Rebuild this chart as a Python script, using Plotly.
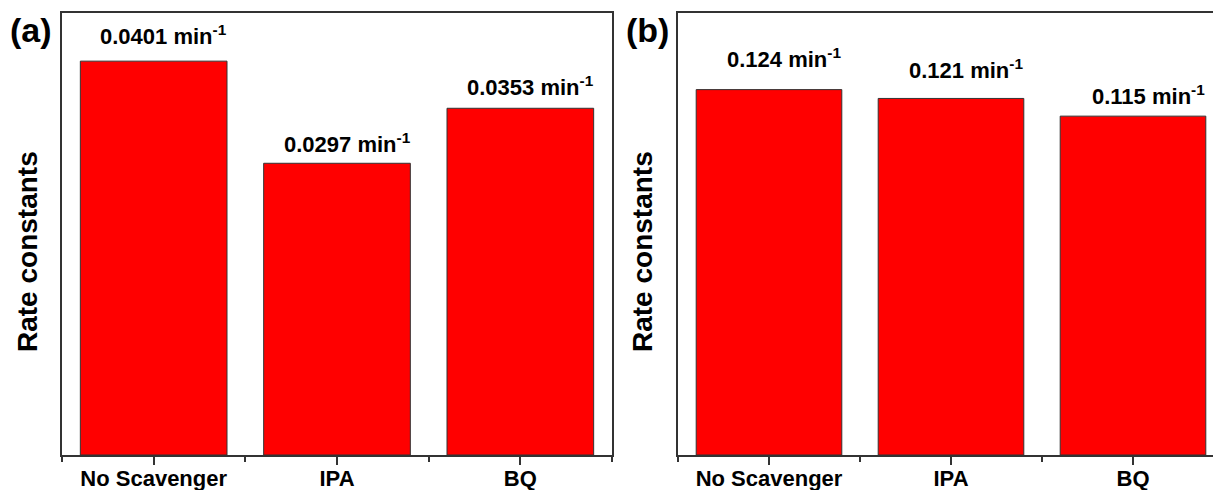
import plotly.graph_objects as go

# ---- data ----
categories = ["No Scavenger", "IPA", "BQ"]
rates_a = [0.0401, 0.0297, 0.0353]
rates_b = [0.124, 0.121, 0.115]
labels_a = ["0.0401", "0.0297", "0.0353"]
labels_b = ["0.124", "0.121", "0.115"]
unit = " min<sup>-1</sup>"

# label style offsets (px between bar top and text baseline)
gap_a = [16, 10, 12]
gap_b = [22, 19, 11]

FONT = "Arial, Liberation Sans, sans-serif"
W, H = 1213, 490
xs = list(range(len(categories)))

fig = go.Figure()
bar_style = dict(marker=dict(color="#ff0000", line=dict(color="#333333", width=1)),
                 width=0.8, hoverinfo="skip", showlegend=False)
fig.add_trace(go.Bar(x=xs, y=rates_a, xaxis="x", yaxis="y", **bar_style))
fig.add_trace(go.Bar(x=xs, y=rates_b, xaxis="x2", yaxis="y2", **bar_style))

def xaxis(domain, rng, mirror_top=True):
    return dict(domain=domain, range=rng, tickvals=xs, ticktext=categories,
                ticks="outside", ticklen=8, tickwidth=1.5, tickcolor="#333333",
                showline=True, linecolor="#333333", linewidth=2, mirror=mirror_top,
                showgrid=False, zeroline=False, automargin=False,
                ticklabelstandoff=-5,
                tickfont=dict(family=FONT, size=22, color="black", weight="bold"),
                minor=dict(tickvals=[-0.5, 0.5, 1.5, 2.5], ticks="outside", ticklen=5,
                           tickwidth=1.5, tickcolor="#333333", showgrid=False))

def yaxis(anchor, rng, mirror):
    return dict(anchor=anchor, domain=[0, 1], range=rng, showticklabels=False, ticks="",
                showline=True, linecolor="#333333", linewidth=2, mirror=mirror,
                showgrid=False, zeroline=False, automargin=False)

xa0, xa1 = 62 / W, 612 / W
xb0 = 678 / W
# panel b extends beyond the right edge in the reference; crop range accordingly
cat_px_b = 182
xb_end = -0.5 + (W - 678) / cat_px_b

fig.update_layout(
    width=W, height=H,
    margin=dict(l=0, r=0, t=13, b=35),
    plot_bgcolor="white", paper_bgcolor="white",
    bargap=0.2,
    xaxis=xaxis([xa0, xa1], [-0.5, 2.5]),
    yaxis=yaxis("x", [0, 0.045], True),
    xaxis2=dict(xaxis([xb0, 1.0], [-0.5, xb_end]), anchor="y2"),
    yaxis2=yaxis("x2", [0, 0.15], False),
)

ann = []
for i, (v, t) in enumerate(zip(rates_a, labels_a)):
    ann.append(dict(x=i, y=v, xref="x", yref="y", text="<b>" + t + unit + "</b>",
                    showarrow=False, yanchor="bottom", xanchor="center",
                    xshift=10, yshift=gap_a[i] - 6,
                    font=dict(family=FONT, size=22, color="black")))
for i, (v, t) in enumerate(zip(rates_b, labels_b)):
    ann.append(dict(x=i, y=v, xref="x2", yref="y2", text="<b>" + t + unit + "</b>",
                    showarrow=False, yanchor="bottom", xanchor="center",
                    xshift=15, yshift=gap_b[i] - 6,
                    font=dict(family=FONT, size=22, color="black")))

# y-axis titles and panel letters
for xc in (28, 643):
    ann.append(dict(x=xc / W, y=1 - (252 - 13) / 442, xref="paper", yref="paper",
                    text="<b>Rate constants</b>", textangle=-90, showarrow=False,
                    xanchor="center", yanchor="middle",
                    font=dict(family=FONT, size=28, color="black")))
for xc, lab in ((31, "(a)"), (647, "(b)")):
    ann.append(dict(x=xc / W, y=1 - (30 - 13) / 442, xref="paper", yref="paper",
                    text="<b>" + lab + "</b>", showarrow=False,
                    xanchor="center", yanchor="middle",
                    font=dict(family=FONT, size=34, color="black")))
fig.update_layout(annotations=ann)

fig.write_html("out.html", config={"displayModeBar": False},
               post_script="document.body.style.margin='0';document.body.style.overflow='hidden';")
